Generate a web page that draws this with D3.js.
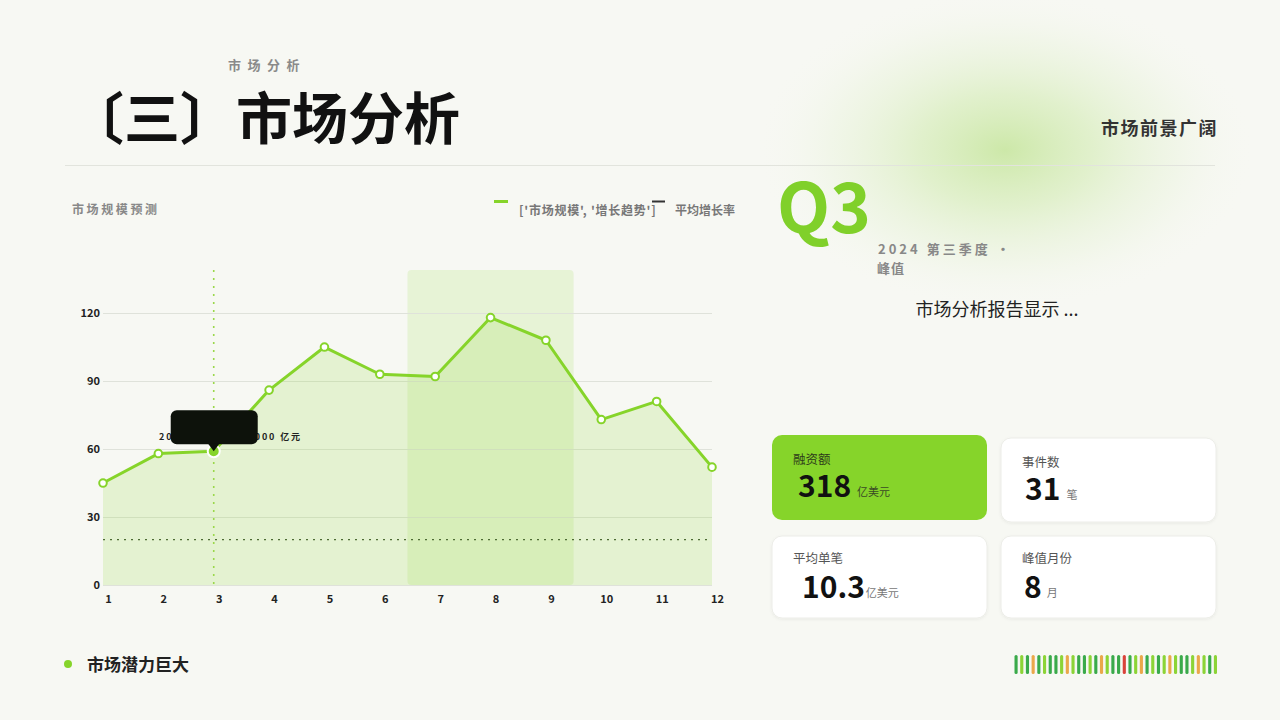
<!DOCTYPE html>
<html><head><meta charset="utf-8">
<script src="https://cdn.jsdelivr.net/npm/d3@7/dist/d3.min.js"></script>
<style>
html,body{margin:0;padding:0;background:#f7f8f3;}
svg{display:block;}
text{font-family:"Noto Sans CJK SC","Noto Sans",sans-serif;}
</style></head>
<body>
<svg id="c" width="1280" height="720"></svg>
<script>
const months = ["1","2","3","4","5","6","7","8","9","10","11","12"];
const marketSize = [45,58,59,86,105,93,92,118,108,73,81,52];
const avgGrowth = 20;
const yTicks = [0,30,60,90,120];
const highlightRange = ["7","9"];
const focusMonth = "3";
const legendLabels = ["['市场规模', '增长趋势']","平均增长率"];
const cardLabels = ["融资额","事件数","平均单笔","峰值月份"];
const cardValues = ["318","31","10.3","8"];
const cardUnits = ["亿美元","笔","亿美元","月"];
const barcodeColors = ["d","l","d","o","d","l","d","d","l","o","l","d","d","l","d","o","l","d","d","r","d","l","o","d","l","d","l","o","l","d","d","l","o","l","d","l"];

const green = "#86d42a";
const svg = d3.select("#c");
const defs = svg.append("defs");
const rg = defs.append("radialGradient").attr("id","glow");
rg.append("stop").attr("offset","0%").attr("stop-color","#c2e496").attr("stop-opacity",0.8);
rg.append("stop").attr("offset","35%").attr("stop-color","#d2ebb2").attr("stop-opacity",0.6);
rg.append("stop").attr("offset","70%").attr("stop-color","#e6f2d6").attr("stop-opacity",0.35);
rg.append("stop").attr("offset","100%").attr("stop-color","#f7f8f3").attr("stop-opacity",0);
const sh = defs.append("filter").attr("id","sh").attr("x","-10%").attr("y","-10%").attr("width","120%").attr("height","130%");
sh.append("feDropShadow").attr("dx",0).attr("dy",1).attr("stdDeviation",1.5).attr("flood-color","#000").attr("flood-opacity",0.06);

svg.append("rect").attr("width",1280).attr("height",720).attr("fill","#f7f8f3");
svg.append("ellipse").attr("cx",1005).attr("cy",150).attr("rx",250).attr("ry",160).attr("fill","url(#glow)");

// header
svg.append("text").attr("x",228).attr("y",70).attr("font-size",13).attr("font-weight",700).attr("fill","#8a8a8a").attr("letter-spacing",6.5).text("市场分析");
svg.append("text").attr("x",68).attr("y",139).attr("font-size",56).attr("font-weight",700).attr("fill","#111").text("〔三〕市场分析");
svg.append("text").attr("x",1218).attr("y",135).attr("text-anchor","end").attr("font-size",18).attr("font-weight",700).attr("fill","#333").attr("letter-spacing",1.5).text("市场前景广阔");
svg.append("line").attr("x1",65).attr("x2",1215).attr("y1",165.5).attr("y2",165.5).attr("stroke","#e2e4dd").attr("stroke-width",1);

// chart title + legend
svg.append("text").attr("x",72).attr("y",214).attr("font-size",12).attr("font-weight",700).attr("fill","#888").attr("letter-spacing",2.6).text("市场规模预测");
svg.append("line").attr("x1",494).attr("x2",508).attr("y1",201.5).attr("y2",201.5).attr("stroke",green).attr("stroke-width",3);
svg.append("text").attr("x",519).attr("y",215).attr("font-size",12).attr("font-weight",700).attr("fill","#777").attr("letter-spacing",0.75).text(legendLabels[0]);
svg.append("line").attr("x1",652).attr("x2",665).attr("y1",201.5).attr("y2",201.5).attr("stroke","#333").attr("stroke-width",2);
svg.append("text").attr("x",675).attr("y",215).attr("font-size",12).attr("font-weight",700).attr("fill","#777").text(legendLabels[1]);

// scales
const x = d3.scalePoint().domain(months).range([103,712]);
const y = d3.scaleLinear().domain([0,139]).range([585,270]);
const step = x.step();
const g = svg.append("g");

// highlight band
g.append("rect").attr("x",x(highlightRange[0])-step/2).attr("y",y(139))
 .attr("width",x(highlightRange[1])-x(highlightRange[0])+step).attr("height",y(0)-y(139))
 .attr("rx",4).attr("fill",green).attr("fill-opacity",0.14);

// gridlines
g.selectAll(".gl").data(yTicks).enter().append("line")
 .attr("x1",x("1")).attr("x2",x("12")).attr("y1",d=>Math.round(y(d))+0.5).attr("y2",d=>Math.round(y(d))+0.5)
 .attr("stroke","#dfe2da").attr("stroke-width",1);

// y axis
const ya = g.append("g").attr("transform","translate(100,0)").call(d3.axisLeft(y).tickValues(yTicks).tickSize(0).tickPadding(0));
ya.select(".domain").remove();
ya.selectAll("text").attr("font-family","'Liberation Sans',Arial,sans-serif").attr("font-size",11).attr("font-weight",700).attr("fill","#222");
// x axis
const xa = g.append("g").attr("transform","translate(5,595)").call(d3.axisBottom(x).tickSize(0).tickPadding(0));
xa.select(".domain").remove();
xa.selectAll("text").attr("font-family","'Liberation Sans',Arial,sans-serif").attr("font-size",11).attr("font-weight",700).attr("fill","#222");

// area
const area = d3.area().x((d,i)=>x(months[i])).y0(y(0)).y1(d=>y(d));
g.append("path").datum(marketSize).attr("d",area).attr("fill",green).attr("fill-opacity",0.17);

// avg line
g.append("line").attr("x1",x("1")).attr("x2",x("12")).attr("y1",y(avgGrowth)).attr("y2",y(avgGrowth))
 .attr("stroke","#4d6b33").attr("stroke-width",1.3).attr("stroke-dasharray","2,5");

// focus vertical
g.append("line").attr("x1",x(focusMonth)).attr("x2",x(focusMonth)).attr("y1",y(139)).attr("y2",y(0))
 .attr("stroke","#9ad84a").attr("stroke-width",1.6).attr("stroke-dasharray","2,6");

// line
const line = d3.line().x((d,i)=>x(months[i])).y(d=>y(d));
g.append("path").datum(marketSize).attr("d",line).attr("fill","none").attr("stroke",green).attr("stroke-width",3).attr("stroke-linejoin","round");
g.selectAll(".pt").data(marketSize).enter().append("circle")
 .attr("cx",(d,i)=>x(months[i])).attr("cy",d=>y(d))
 .attr("r",(d,i)=>months[i]===focusMonth?6:3.8)
 .attr("fill",(d,i)=>months[i]===focusMonth?green:"#fff")
 .attr("stroke",(d,i)=>months[i]===focusMonth?"#fff":green)
 .attr("stroke-width",2);

// tooltip
const fi = months.indexOf(focusMonth);
const fx = x(focusMonth), fy = y(marketSize[fi]);
g.append("text").attr("x",159).attr("y",440).attr("font-size",9).attr("font-weight",700).attr("fill","#222")
 .attr("textLength",141).attr("lengthAdjust","spacing").text("2024年"+focusMonth+"月 "+marketSize[fi]+" / 1000 亿元");
g.append("rect").attr("x",fx-43).attr("y",fy-41).attr("width",87).attr("height",34).attr("rx",6).attr("fill","#0d120b");
g.append("path").attr("d",`M${fx-6},${fy-8}L${fx+6},${fy-8}L${fx},${fy}Z`).attr("fill","#0d120b");

// Q3 block
svg.append("text").attr("x",777).attr("y",233).attr("font-family","'Liberation Sans',Arial,sans-serif").attr("font-size",69).attr("font-weight",700).attr("fill","#80d02a").text("Q3");
svg.append("text").attr("x",878).attr("y",254).attr("font-size",13).attr("font-weight",700).attr("fill","#888").attr("letter-spacing",3).text("2024  第三季度 ·");
svg.append("text").attr("x",877).attr("y",273).attr("font-size",13).attr("font-weight",700).attr("fill","#888").attr("letter-spacing",1).text("峰值");
svg.append("text").attr("x",997).attr("y",316).attr("text-anchor","middle").attr("font-size",18).attr("fill","#222").text("市场分析报告显示 ...");

// cards
const cardPos = [[772,435],[1001,438],[772,536],[1001,536]];
const cardW = 215, cardH = [85,84,82,82];
cardLabels.forEach((lab,i)=>{
  const [cx,cy] = cardPos[i];
  const active = i===0;
  svg.append("rect").attr("x",cx).attr("y",cy).attr("width",cardW).attr("height",cardH[i]).attr("rx",10)
   .attr("fill",active?"#86d42a":"#fff").attr("stroke",active?"none":"#ecede8").attr("filter",active?null:"url(#sh)");
  svg.append("text").attr("x",cx+21).attr("y",cy+(i<2?29:27)).attr("font-size",12.5).attr("fill",active?"#2d3a1a":"#555").text(lab);
  const nx = cx + [26,24,30,23][i];
  const ny = cy + 62;
  const nt = svg.append("text").attr("x",nx).attr("y",ny).attr("font-family","'Liberation Sans',Arial,sans-serif").attr("font-size",30).attr("font-weight",700).attr("fill","#111").text(cardValues[i]);
  const w = nt.node().getComputedTextLength();
  svg.append("text").attr("x",nx+w+[6,6,1,5][i]).attr("y",ny-1).attr("font-size",11).attr("fill",active?"#3a4a26":"#777").text(cardUnits[i]);
});

// footer
svg.append("circle").attr("cx",68).attr("cy",664).attr("r",4).attr("fill",green);
svg.append("text").attr("x",87).attr("y",671).attr("font-size",17).attr("font-weight",700).attr("fill","#222").text("市场潜力巨大");

const colMap = {d:"#3aaa4a",l:"#8cd436",o:"#eaa84a",r:"#d9433a"};
const bx = d3.scaleBand().domain(d3.range(barcodeColors.length)).range([1014.5,1217]).paddingInner(0.45);
svg.append("g").selectAll("rect").data(barcodeColors).enter().append("rect")
 .attr("x",(d,i)=>bx(i)).attr("y",655).attr("width",bx.bandwidth()).attr("height",19).attr("rx",1.5)
 .attr("fill",d=>colMap[d]);
</script>
</body></html>
